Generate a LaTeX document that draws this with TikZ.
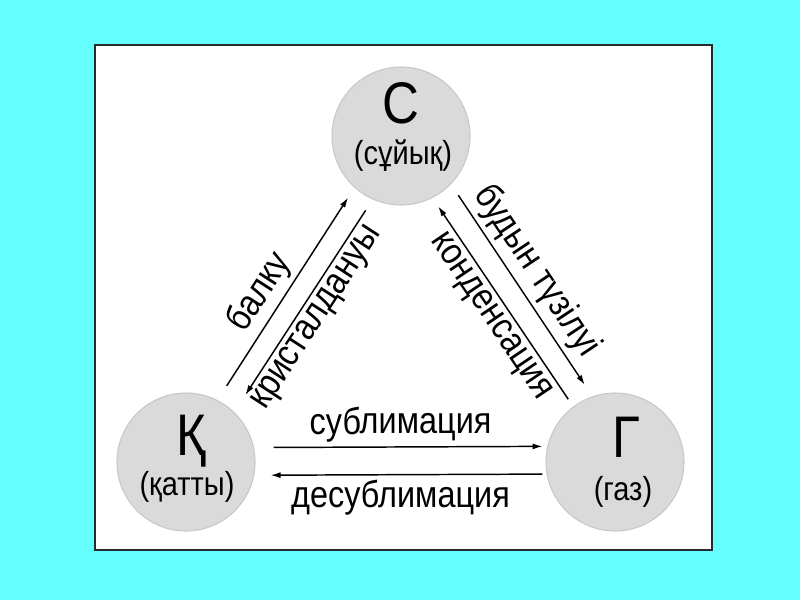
\documentclass[tikz,border=0pt]{standalone}
\usepackage{fontspec}
\setmainfont{Liberation Sans}[FakeStretch=0.87]
\usetikzlibrary{arrows.meta}
\definecolor{bgcyan}{RGB}{102,255,255}
\definecolor{phasefill}{RGB}{218,218,218}
\definecolor{phaseedge}{RGB}{200,200,200}
\definecolor{framedark}{RGB}{35,45,45}

\begin{document}
\begin{tikzpicture}[x=0.75pt, y=-0.75pt,
    phase/.style={circle, fill=phasefill, draw=phaseedge, line width=0.8pt, minimum size=103.5pt, inner sep=0pt},
    letter/.style={anchor=base, font=\fontsize{44}{44}\selectfont},
    state/.style={anchor=base, font=\fontsize{25}{25}\selectfont},
    trans/.style={line width=1.1pt},
    translabel/.style={sloped, inner sep=3.5pt, font=\fontsize{28}{28}\selectfont},
    >={Latex[length=7.5pt,width=4.5pt]}]
    % background and frame
    \fill[bgcyan] (0,0) rectangle (800,600);
    \draw[framedark, fill=white, line width=1.5pt] (95,45) rectangle (712,550);

    % phases
    \node[phase] (C) at (401,136) {};
    \node[phase] (K) at (186,462) {};
    \node[phase] (G) at (615,462) {};
    \node[letter] (Cl) at (401,123) {С};
    \node[state] (Cs) at (403,164) {(сұйық)};
    \node[letter] (Kl) at (191,455) {Қ};
    \node[state] (Ks) at (187,495) {(қатты)};
    \node[letter] (Gl) at (626,457) {Г};
    \node[state] (Gs) at (623,500) {(газ)};

    % solid <-> liquid
    \draw[->, trans, shorten <=12.7pt, shorten >=8.8pt] (K.63.7) -- node[translabel, above, pos=.45] {балку} (C.228);
    \draw[<-, trans, shorten <=15.1pt, shorten >=9.7pt] (K.46.8) -- node[translabel, below, pos=.49] {кристалдануы} (C.246.25);

    % liquid <-> gas
    \draw[<-, trans, shorten <=7.6pt, shorten >=6.6pt] (C.297.9) -- node[translabel, below, pos=.52] {конденсация} (G.127.2);
    \draw[->, trans, shorten <=9.8pt, shorten >=10.2pt] (C.316) -- node[translabel, above, pos=.47] {будын түзілуі} (G.109.1);

    % solid <-> gas
    \draw[->, trans, shorten <=14.8pt, shorten >=3.5pt] (K.12.6) -- node[translabel, above] {сублимация} (G.167.4);
    \draw[<-, trans, shorten <=12.2pt, shorten >=3.2pt] (K.349.1) -- node[translabel, below] {десублимация} (G.190.9);
\end{tikzpicture}
\end{document}
